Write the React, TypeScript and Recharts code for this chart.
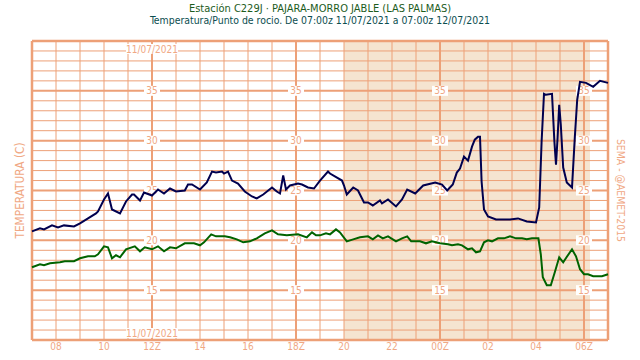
import React from 'react';
import { LineChart, Line, XAxis, YAxis, ReferenceArea, ReferenceLine, ReferenceDot } from 'recharts';

const TEMP_TIMES = [
    '07:00', '07:20', '07:30', '07:50', '08:05', '08:20', '08:45', '09:00', '09:20', '09:40', '09:45',
    '10:00', '10:10', '10:20', '10:40', '10:55', '11:10', '11:15', '11:30', '11:40', '12:00', '12:15',
    '12:30', '12:45', '13:00', '13:22', '13:30', '13:40', '14:00', '14:17', '14:30', '14:40', '14:55',
    '15:00', '15:10', '15:20', '15:35', '15:52', '16:10', '16:22', '16:38', '17:00', '17:12', '17:20',
    '17:28', '17:35', '17:45', '18:05', '18:15', '18:30', '18:45', '19:00', '19:20', '19:25', '19:55',
    '20:00', '20:07', '20:23', '20:35', '20:50', '21:00', '21:12', '21:30', '21:35', '21:50', '22:10',
    '22:25', '22:38', '22:58', '23:18', '23:48', '00:05', '00:18', '00:32', '00:42', '00:50', '01:00',
    '01:10', '01:20', '01:27', '01:35', '01:40', '01:44', '01:50', '02:00', '02:20', '02:55', '03:15',
    '03:37', '04:00', '04:08', '04:14', '04:20', '04:25', '04:40', '04:46', '04:50', '04:54', '04:58',
    '05:02', '05:08', '05:17', '05:30', '05:37', '05:43', '05:50', '06:05', '06:23', '06:40', '07:00',
];
const TEMP_VALUES = [
    20.9, 21.2, 21.1, 21.5, 21.3, 21.5, 21.4, 21.7, 22.2, 22.7, 22.9,
    24.1, 24.7, 23.1, 22.7, 23.9, 24.6, 24.6, 24.0, 24.8, 24.5, 25.1,
    24.7, 25.2, 24.9, 25.0, 25.6, 25.6, 25.1, 25.8, 26.9, 26.8, 26.9,
    26.7, 26.9, 26.0, 25.7, 24.9, 24.4, 24.2, 24.6, 25.3, 24.9, 24.7,
    26.5, 25.1, 25.5, 25.7, 25.6, 25.3, 25.2, 26.0, 26.9, 26.7, 26.0,
    25.5, 24.6, 25.3, 25.0, 23.8, 23.8, 23.5, 24.0, 23.7, 24.1, 23.4,
    24.1, 25.1, 24.7, 25.5, 25.8, 25.6, 25.0, 25.6, 26.8, 27.2, 28.4,
    28.0, 29.4, 30.1, 30.4, 30.4, 25.9, 23.1, 22.4, 22.1, 22.1, 22.2,
    21.9, 21.8, 23.3, 29.9, 34.7, 34.6, 34.7, 29.9, 27.6, 30.3, 33.6,
    31.6, 27.3, 25.8, 25.3, 30.3, 34.1, 35.9, 35.8, 35.4, 36.0, 35.8,
];

const DEW_TIMES = [
    '07:00', '07:20', '07:30', '07:45', '08:10', '08:22', '08:45', '09:00', '09:20', '09:37', '09:45',
    '10:00', '10:10', '10:20', '10:30', '10:40', '10:55', '11:17', '11:30', '11:42', '12:00', '12:15',
    '12:30', '12:45', '13:00', '13:22', '13:45', '14:00', '14:10', '14:28', '14:40', '15:02', '15:15',
    '15:32', '15:48', '16:05', '16:22', '16:42', '17:00', '17:15', '17:37', '18:05', '18:27', '18:40',
    '18:50', '19:00', '19:15', '19:25', '19:40', '19:50', '20:07', '20:23', '20:40', '21:00', '21:12',
    '21:25', '21:37', '21:50', '22:10', '22:25', '22:38', '22:48', '23:10', '23:25', '23:40', '00:00',
    '00:20', '00:30', '00:45', '00:55', '01:10', '01:20', '01:30', '01:40', '01:50', '02:00', '02:10',
    '02:25', '02:40', '02:55', '03:10', '03:25', '03:37', '03:50', '04:06', '04:12', '04:17', '04:27',
    '04:37', '04:47', '04:58', '05:08', '05:18', '05:30', '05:40', '05:50', '06:00', '06:10', '06:23',
    '06:45', '07:00',
];
const DEW_VALUES = [
    17.3, 17.6, 17.5, 17.7, 17.8, 17.9, 17.9, 18.2, 18.4, 18.4, 18.6,
    19.4, 19.3, 18.2, 18.5, 18.3, 19.1, 19.4, 18.9, 19.3, 19.1, 19.4,
    18.9, 19.3, 19.2, 19.7, 19.7, 19.5, 19.8, 20.6, 20.4, 20.4, 20.3,
    20.1, 19.8, 19.9, 20.2, 20.7, 21.0, 20.6, 20.5, 20.6, 20.3, 20.8,
    20.5, 20.5, 20.7, 20.6, 21.1, 20.8, 19.9, 20.1, 20.3, 20.4, 20.1,
    20.5, 20.2, 20.4, 19.9, 20.2, 20.4, 19.9, 19.9, 19.7, 19.9, 19.7,
    19.6, 19.5, 19.6, 19.5, 19.1, 19.2, 18.8, 18.9, 19.8, 20.0, 19.9,
    20.2, 20.2, 20.4, 20.2, 20.2, 20.1, 20.2, 20.2, 18.6, 16.3, 15.5,
    15.5, 16.8, 18.3, 17.8, 18.4, 19.1, 18.4, 17.1, 16.6, 16.6, 16.4,
    16.4, 16.6,
];

const HOUR_LABELS = ['08', '10', '12Z', '14', '16', '18Z', '20', '22', '00Z', '02', '04', '06Z'];
const VALUE_LABELS = [15, 20, 25, 30, 35];
const LABEL_COLUMNS = ['12Z', '18Z', '00Z', '06Z'];
const DATE_LABEL = '11/07/2021';
const NIGHT = ['20:00', '06:15'];

const GRID = '#eda077';
const TEXT = '#f0a884';
const FONT = "'DejaVu Sans Condensed', 'DejaVu Sans', sans-serif";

// minutes since 07:00z
const toMin = (hhmm: string) => {
    const [h, m] = hhmm.replace('Z', '').split(':').map(Number);
    return ((h * 60 + (m || 0) - 420) % 1440 + 1440) % 1440;
};

const toSeries = (times: string[], values: number[]) => {
    let prev = -1;
    return times.map((s, i) => {
        let t = toMin(s);
        if (t < prev) t += 1440;
        prev = t;
        return { t, v: values[i] };
    });
};

const tempData = toSeries(TEMP_TIMES, TEMP_VALUES);
const dewData = toSeries(DEW_TIMES, DEW_VALUES);

const hourTicks = Array.from({ length: 25 }, (_, i) => i * 60);
const degreeTicks = Array.from({ length: 31 }, (_, i) => 10 + i);
const labelByMin: Record<number, string> = {};
HOUR_LABELS.forEach((l) => { labelByMin[toMin(l)] = l; });
const thickX = LABEL_COLUMNS.map(toMin);

const boxLabel = (text: string, w: number) => (props: any) => (
    <g>
        <rect x={props.cx - w / 2} y={props.cy - 5} width={w} height={10} fill="#fff" />
        <text x={props.cx} y={props.cy} dy="0.36em" textAnchor="middle" fill={TEXT} fontSize={10} fontFamily={FONT}>
            {text}
        </text>
    </g>
);

const tickStyle = { fill: TEXT, fontSize: 10, fontFamily: FONT };

export default function App() {
    return (
        <div style={{ position: 'relative', width: 640, height: 360, background: '#fff' }}>
            <style>{'body{margin:0}'}</style>
            <div style={{ position: 'absolute', top: 3, width: 640, height: 11, textAlign: 'center', fontFamily: FONT, fontSize: 11, lineHeight: '11px', color: '#1d5c1d' }}>
                Estación C229J · PAJARA-MORRO JABLE (LAS PALMAS)
            </div>
            <div style={{ position: 'absolute', top: 15, width: 640, height: 11, textAlign: 'center', fontFamily: FONT, fontSize: 10.4, lineHeight: '11px', color: '#0b4d4f' }}>
                Temperatura/Punto de rocio. De 07:00z 11/07/2021 a 07:00z 12/07/2021
            </div>
            <LineChart width={640} height={360} margin={{ top: 20, right: 6, bottom: 0, left: 8 }}>
                <XAxis
                    type="number"
                    dataKey="t"
                    domain={[0, 1440]}
                    ticks={hourTicks}
                    interval={0}
                    height={20}
                    axisLine={false}
                    tickLine={false}
                    tickSize={0}
                    tickMargin={3}
                    tick={tickStyle}
                    tickFormatter={(v: number) => labelByMin[v] ?? ''}
                />
                <XAxis
                    xAxisId="top"
                    orientation="top"
                    type="number"
                    dataKey="t"
                    domain={[0, 1440]}
                    ticks={hourTicks}
                    interval={0}
                    height={21}
                    axisLine={false}
                    tickLine={false}
                    tickSize={2}
                    tickMargin={3}
                    tick={tickStyle}
                    tickFormatter={(v: number) => labelByMin[v] ?? ''}
                />
                <YAxis
                    type="number"
                    domain={[10, 40]}
                    ticks={degreeTicks}
                    width={24}
                    tick={false}
                    axisLine={false}
                    tickLine={false}
                    label={{ value: 'TEMPERATURA (C)', angle: -90, position: 'center', fill: TEXT, fontSize: 11.8, fontFamily: FONT }}
                />
                <YAxis
                    yAxisId="right"
                    orientation="right"
                    type="number"
                    domain={[10, 40]}
                    width={26}
                    tick={false}
                    axisLine={false}
                    tickLine={false}
                    label={{ value: 'SEMA - @AEMET-2015', angle: 90, position: 'center', fill: TEXT, fontSize: 10.4, fontFamily: FONT }}
                />
                <ReferenceArea x1={toMin(NIGHT[0])} x2={toMin(NIGHT[1])} fill="#f5e4d0" fillOpacity={1} stroke="none" />
                {hourTicks.map((t) => (
                    <ReferenceLine
                        key={'x' + t}
                        x={t}
                        stroke={GRID}
                        strokeWidth={t === 0 || t === 1440 ? 2.5 : thickX.includes(t) ? 2 : 1}
                    />
                ))}
                {degreeTicks.map((d) => (
                    <ReferenceLine
                        key={'y' + d}
                        y={d}
                        stroke={GRID}
                        strokeWidth={d === 10 || d === 40 ? 2.5 : d % 5 === 0 ? 2 : 1}
                    />
                ))}
                {LABEL_COLUMNS.map((c) =>
                    VALUE_LABELS.map((y) => (
                        <ReferenceDot key={c + y} x={toMin(c)} y={y} r={0} shape={boxLabel(String(y), 16)} />
                    ))
                )}
                <ReferenceDot x={toMin(LABEL_COLUMNS[0])} y={39.2} r={0} shape={boxLabel(DATE_LABEL, 52)} />
                <ReferenceDot x={toMin(LABEL_COLUMNS[0])} y={10.7} r={0} shape={boxLabel(DATE_LABEL, 52)} />
                <Line data={tempData} dataKey="v" type="linear" stroke="#00004f" strokeWidth={2} dot={false} isAnimationActive={false} zIndex={3000} />
                <Line data={dewData} dataKey="v" type="linear" stroke="#006300" strokeWidth={2} dot={false} isAnimationActive={false} zIndex={3000} />
            </LineChart>
        </div>
    );
}
